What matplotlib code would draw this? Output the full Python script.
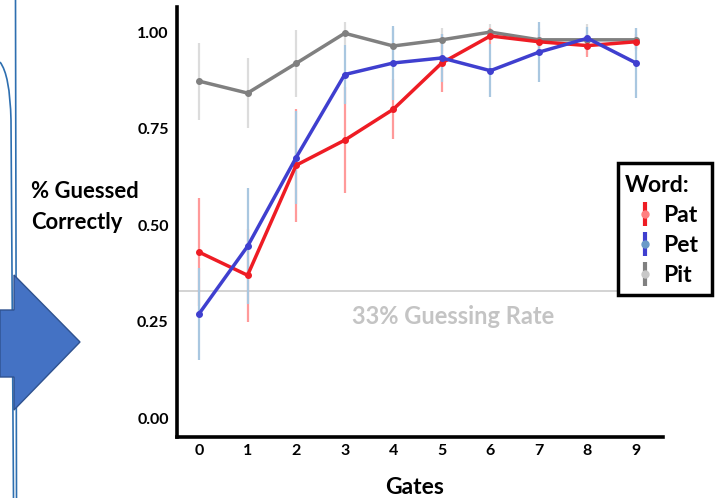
import matplotlib
matplotlib.use("Agg")
import matplotlib.pyplot as plt
from matplotlib.lines import Line2D
from matplotlib.patches import Polygon, PathPatch, Rectangle
from matplotlib.path import Path
from matplotlib.legend_handler import HandlerTuple

plt.rcParams['font.family'] = ['Lato', 'DejaVu Sans']

# ---------------- data ----------------
gates = [0, 1, 2, 3, 4, 5, 6, 7, 8, 9]
gate_labels = ["0", "1", "2", "3", "4", "5", "6", "7", "8", "9"]
words = ["Pat", "Pet", "Pit"]

pat_mean = [0.43, 0.37, 0.655, 0.72, 0.80, 0.92, 0.99, 0.975, 0.965, 0.975]
pat_err = [0.14, 0.12, 0.147, 0.137, 0.078, 0.075, 0.02, 0.02, 0.03, 0.02]

pet_mean = [0.27, 0.445, 0.675, 0.89, 0.92, 0.933, 0.90, 0.948, 0.984, 0.92]
pet_err = [0.12, 0.15, 0.12, 0.077, 0.096, 0.063, 0.068, 0.078, 0.03, 0.09]

pit_mean = [0.873, 0.842, 0.919, 0.997, 0.964, 0.98, 1.0, 0.98, 0.98, 0.98]
pit_err = [0.10, 0.091, 0.087, 0.03, 0.046, 0.03, 0.02, 0.03, 0.04, 0.03]

y_ticks = [0.0, 0.25, 0.50, 0.75, 1.00]
y_tick_labels = ["0.00", "0.25", "0.50", "0.75", "1.00"]
guess_rate = 0.33

# ---------------- figure ----------------
W, H = 723, 498
fig = plt.figure(figsize=(W / 100, H / 100), dpi=100)

def fx(x):
    return x / W

def fy(y):
    return 1 - y / H

# slide decorations (outline curves and block arrow)
deco_col = "#2E6FB0"
pA = Path([(fx(15.5), fy(0)), (fx(16.5), fy(498))], [Path.MOVETO, Path.LINETO])
fig.add_artist(PathPatch(pA, transform=fig.transFigure, fill=False, edgecolor=deco_col, lw=1.2))
pB = Path([(fx(0), fy(62)), (fx(10), fy(75)), (fx(11), fy(120)), (fx(13.5), fy(498))],
          [Path.MOVETO, Path.CURVE3, Path.CURVE3, Path.LINETO])
fig.add_artist(PathPatch(pB, transform=fig.transFigure, fill=False, edgecolor=deco_col, lw=1.2))
arrow_px = [(0, 310), (14, 310), (14, 275), (80, 342), (14, 410), (14, 377), (0, 377)]
fig.add_artist(Polygon([(fx(x), fy(y)) for x, y in arrow_px], closed=True,
                       transform=fig.transFigure, facecolor="#4472C4",
                       edgecolor="#2F528F", lw=1.0, zorder=3))

ax = fig.add_axes([fx(177), fy(437), (663 - 177) / W, (437 - 7) / H])
ax.set_xlim(-0.453, 9.555)
ax.set_ylim(-0.049, 1.065)

for s in ["top", "right"]:
    ax.spines[s].set_visible(False)
for s in ["left", "bottom"]:
    ax.spines[s].set_linewidth(2.6)
    ax.spines[s].set_color("black")

ax.set_xticks(gates)
ax.set_xticklabels(gate_labels, fontsize=11.5, fontweight="bold")
ax.set_yticks(y_ticks)
ax.set_yticklabels(y_tick_labels, fontsize=11.5, fontweight="bold")
ax.tick_params(axis="both", length=0)
ax.tick_params(axis="y", pad=6)
ax.tick_params(axis="x", pad=5)

# guessing rate
ax.axhline(guess_rate, color="#c8c8c8", lw=1.1, zorder=0.5)
ax.text(5.23, 0.264, "33% Guessing Rate", ha="center", va="center",
        color="#c4c4c4", fontsize=17, fontweight="bold")

series = [
    (pit_mean, pit_err, "#808080", "#dcdcdc", 2),
    (pat_mean, pat_err, "#EE1C24", "#ff9a9a", 3),
    (pet_mean, pet_err, "#3F3FCF", "#a9c7e0", 4),
]
for mean, err, col, light, z in series:
    ax.errorbar(gates, mean, yerr=err, fmt="none", ecolor=light, elinewidth=1.6, zorder=1)
for mean, err, col, light, z in series:
    ax.plot(gates, mean, color=col, lw=2.5, marker="o", ms=4, zorder=z)

ax.set_ylabel("% Guessed\nCorrectly", rotation=0, ha="left", va="center",
              fontsize=15.8, fontweight="bold", linespacing=1.6)
ax.yaxis.set_label_coords((31 - 177) / (663 - 177), (437 - 207) / (437 - 7))
ax.set_xlabel("Gates", fontsize=16.5, fontweight="bold")
ax.xaxis.set_label_coords((415 - 177) / (663 - 177), (437 - 487) / (437 - 7))
ax.xaxis.label.set_va("center")

# legend frame
fig.add_artist(Rectangle((fx(618), fy(295)), fx(712 - 618), (295 - 163) / H,
                         transform=fig.transFigure, facecolor="white",
                         edgecolor="black", lw=2.5, zorder=4))

cols = {"Pat": ("#EE1C24", "#ff8080"), "Pet": ("#3F3FCF", "#6a9ac8"), "Pit": ("#808080", "#c8c8c8")}
handles = []
for w in words:
    c, lc = cols[w]
    handles.append((Line2D([], [], ls="none", marker="|", ms=17, mew=3, color=c),
                    Line2D([], [], ls="none", marker="o", ms=5, color=lc)))
leg = fig.legend(handles, words, title="Word:", loc="upper left",
                 bbox_to_anchor=(fx(625), fy(175)), frameon=False,
                 borderpad=0, handlelength=1.75, handletextpad=-0.1,
                 labelspacing=0.4, borderaxespad=0,
                 prop={"weight": "bold", "size": 16.5},
                 title_fontproperties={"weight": "bold", "size": 16.5},
                 alignment="left", handler_map={tuple: HandlerTuple(ndivide=1)})
leg.set_zorder(5)

fig.savefig("out.png", dpi=100)
